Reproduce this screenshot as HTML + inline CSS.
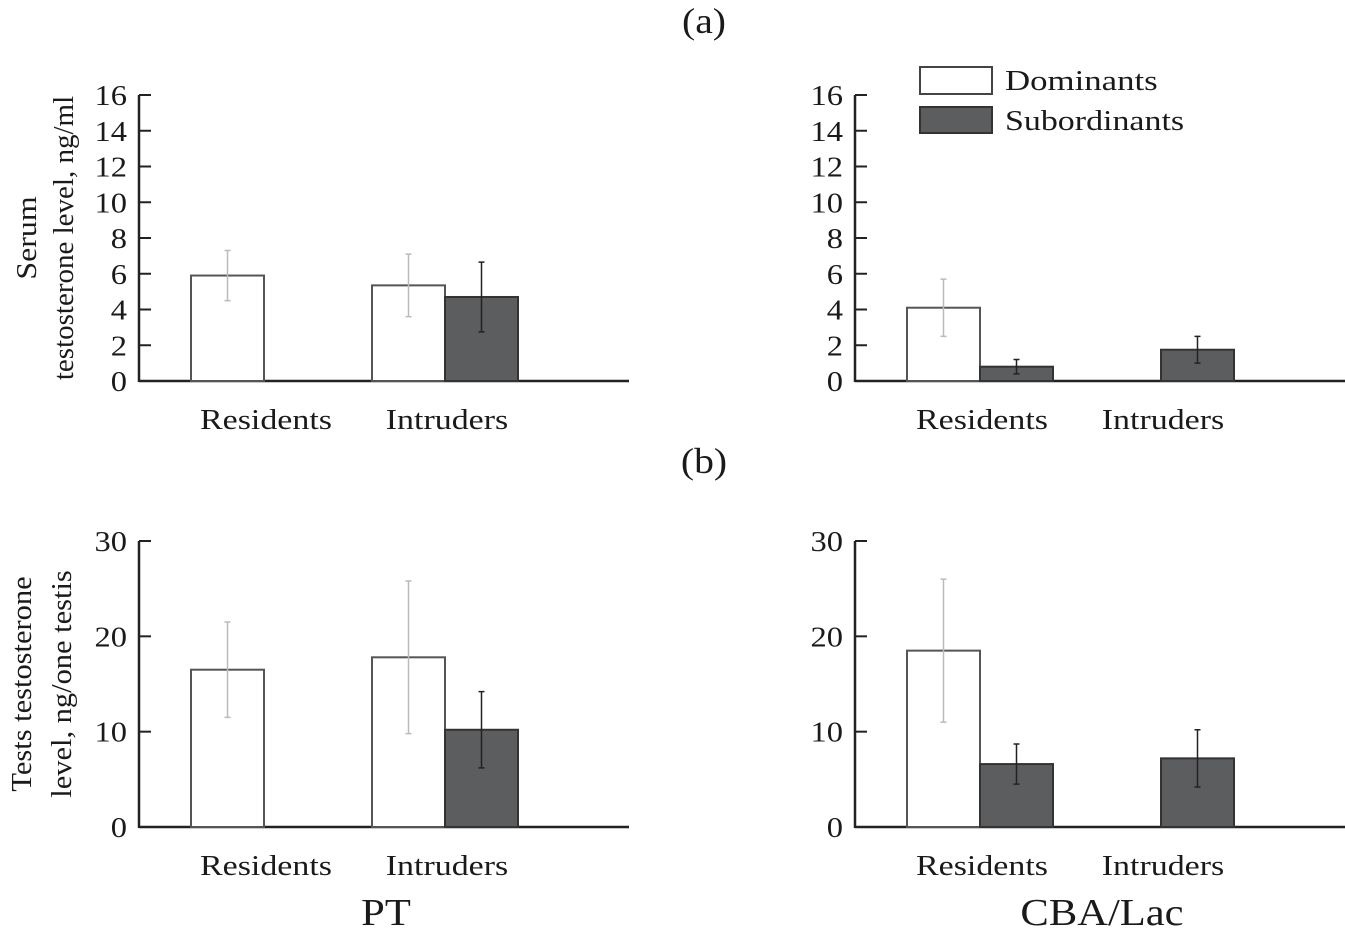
<!DOCTYPE html>
<html><head><meta charset="utf-8"><style>
body{margin:0;background:#fff}
svg text{font-family:"Liberation Serif",serif;fill:#1a1a1a}
</style></head><body>
<svg id="c" width="1345" height="940"></svg>
<script>
const groups=["Residents","Intruders"];
const serumPTDom=[5.9,5.35], serumPTDomErr=[1.4,1.75];
const serumPTSub=[null,4.7], serumPTSubErr=[null,1.95];
const serumCBADom=[4.1,null], serumCBADomErr=[1.6,null];
const serumCBASub=[0.8,1.75], serumCBASubErr=[0.4,0.75];
const testPTDom=[16.5,17.8], testPTDomErr=[5.0,8.0];
const testPTSub=[null,10.2], testPTSubErr=[null,4.0];
const testCBADom=[18.5,null], testCBADomErr=[7.5,null];
const testCBASub=[6.6,7.2], testCBASubErr=[2.1,3.0];
const serumTicks=[0,2,4,6,8,10,12,14,16];
const testTicks=[0,10,20,30];
const svg=document.getElementById('c');const NS='http://www.w3.org/2000/svg';
function el(t,a,txt){const e=document.createElementNS(NS,t);for(const k in a)e.setAttribute(k,a[k]);if(txt!=null)e.textContent=txt;svg.appendChild(e);return e;}
function stretch(e,f){const w=e.getComputedTextLength();e.setAttribute('textLength',w*f);e.setAttribute('lengthAdjust','spacingAndGlyphs');}
function panel(name,ax,y0,y1,max,ticks,dom,domE,sub,subE){
  const Y=v=>y0-(v/max)*(y0-y1);
  let e=el('line',{x1:ax,y1:y1,x2:ax,y2:y0+1,stroke:'#222','stroke-width':2.5});
  
  e=el('line',{x1:ax,y1:y0,x2:ax+490,y2:y0,stroke:'#222','stroke-width':2.5});
  
  ticks.forEach(t=>{
    e=el('line',{x1:ax,y1:Y(t),x2:ax+12,y2:Y(t),stroke:'#222','stroke-width':2});
    
    e=el('text',{x:ax-12,y:Y(t)+10,'text-anchor':'end','font-size':29},t);
    
    stretch(e,1.12);
  });
  const starts=[ax+52,ax+233];
  groups.forEach((g,i)=>{
    e=el('text',{x:starts[i]+75,y:y0+48,'text-anchor':'middle','font-size':29},g);
    
    stretch(e,1.17);
    [[dom,domE,'#fff','#bbb','dominants'],[sub,subE,'#5c5d5f','#222','subordinates']].forEach((s,j)=>{
      const v=s[0][i];if(v==null)return;const x=starts[i]+j*73;
      e=el('rect',{x:x,y:Y(v),width:73,height:y0-Y(v),fill:s[2],stroke:j?'#333':'#555','stroke-width':2});
      
      const er=s[1][i],cx=x+36.5;
      e=el('path',{d:`M${cx},${Y(v+er)}V${Y(v-er)}M${cx-3},${Y(v+er)}h6M${cx-3},${Y(v-er)}h6`,stroke:s[3],'stroke-width':1.5,fill:'none'});
      
    });
  });
}
panel('serum-pt',139,381,95,16,serumTicks,serumPTDom,serumPTDomErr,serumPTSub,serumPTSubErr);
panel('serum-cba',855,381,95,16,serumTicks,serumCBADom,serumCBADomErr,serumCBASub,serumCBASubErr);
panel('testis-pt',139,827,541,30,testTicks,testPTDom,testPTDomErr,testPTSub,testPTSubErr);
panel('testis-cba',855,827,541,30,testTicks,testCBADom,testCBADomErr,testCBASub,testCBASubErr);
function txt(name,a,t,f){const e=el('text',a,t);if(f)stretch(e,f);}
txt('panel-a-label',{x:704,y:33,'text-anchor':'middle','font-size':36},'(a)',1.1);
txt('panel-b-label',{x:704,y:473,'text-anchor':'middle','font-size':36},'(b)',1.1);
txt('pt-title',{x:386,y:925,'text-anchor':'middle','font-size':38},'PT',1.12);
txt('cba-title',{x:1102,y:925,'text-anchor':'middle','font-size':38},'CBA/Lac',1.12);
txt('serum-y-title-1',{x:0,y:0,transform:'translate(36,238) rotate(-90)','text-anchor':'middle','font-size':29},'Serum',1.1);
txt('serum-y-title-2',{x:0,y:0,transform:'translate(73,238) rotate(-90)','text-anchor':'middle','font-size':29},'testosterone level, ng/ml',1.0);
txt('testis-y-title-1',{x:0,y:0,transform:'translate(31,684) rotate(-90)','text-anchor':'middle','font-size':29},'Tests testosterone',1.05);
txt('testis-y-title-2',{x:0,y:0,transform:'translate(71,684) rotate(-90)','text-anchor':'middle','font-size':29},'level, ng/one testis',1.05);
let e=el('rect',{x:920,y:67,width:72,height:27,fill:'#fff',stroke:'#444','stroke-width':2});

e=el('rect',{x:920,y:107,width:72,height:26,fill:'#5c5d5f',stroke:'#333','stroke-width':2});

txt('legend-label-dominants',{x:1005,y:90,'font-size':29},'Dominants',1.2);
txt('legend-label-subordinates',{x:1005,y:130,'font-size':29},'Subordinants',1.17);
</script>
</body></html>
